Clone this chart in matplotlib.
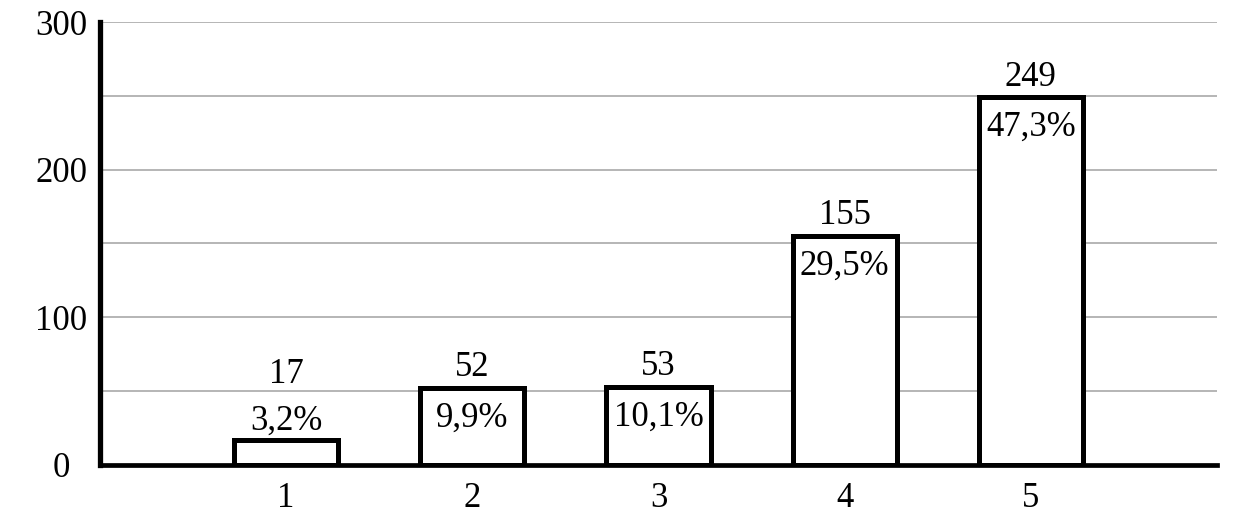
import matplotlib.pyplot as plt
from matplotlib.ticker import MultipleLocator

categories = [1, 2, 3, 4, 5]
counts = [17, 52, 53, 155, 249]
y_ticks = [0, 100, 200, 300]

plt.rcParams['font.family'] = ['Liberation Serif', 'DejaVu Serif']
FS = 25

total = sum(counts)
percents = [f"{c / total * 100:.1f}".replace('.', ',') + '%' for c in counts]

fig, ax = plt.subplots(figsize=(12.4, 5.32), dpi=100)
fig.subplots_adjust(left=0.0806, right=0.9815, top=0.9586, bottom=0.126)

bars = ax.bar(categories, counts, width=0.56, color='white', edgecolor='black',
              linewidth=3.6, zorder=3)

for x, c, p in zip(categories, counts, percents):
    if c < 30:
        # short bar: both labels above
        ax.annotate(p, (x, c), xytext=(0, 7), textcoords='offset points',
                    ha='center', va='baseline', fontsize=FS, zorder=4)
        ax.annotate(str(c), (x, c), xytext=(0, 41), textcoords='offset points',
                    ha='center', va='baseline', fontsize=FS, zorder=4)
    else:
        ax.annotate(str(c), (x, c), xytext=(0, 8.5), textcoords='offset points',
                    ha='center', va='baseline', fontsize=FS, zorder=4)
        ax.annotate(p, (x, c), xytext=(0, -28), textcoords='offset points',
                    ha='center', va='baseline', fontsize=FS, zorder=4)

ax.set_xlim(0, 6)
ax.set_ylim(0, 300)
ax.set_xticks(categories)
ax.set_yticks(y_ticks)
ax.yaxis.set_minor_locator(MultipleLocator(50))
ax.grid(axis='y', which='both', color='#b0b0b0', linewidth=1.3, zorder=0)
ax.set_axisbelow(True)

ax.tick_params(axis='both', which='both', length=0, labelsize=FS)
ax.tick_params(axis='y', pad=28)
ax.tick_params(axis='x', pad=12)
for lbl in ax.get_yticklabels():
    lbl.set_horizontalalignment('center')

for s in ['top', 'right']:
    ax.spines[s].set_visible(False)
ax.spines['left'].set_linewidth(3.8)
ax.spines['bottom'].set_linewidth(3.4)
ax.spines['left'].set_zorder(5)
ax.spines['bottom'].set_zorder(5)

fig.savefig('out.png', dpi=100)
